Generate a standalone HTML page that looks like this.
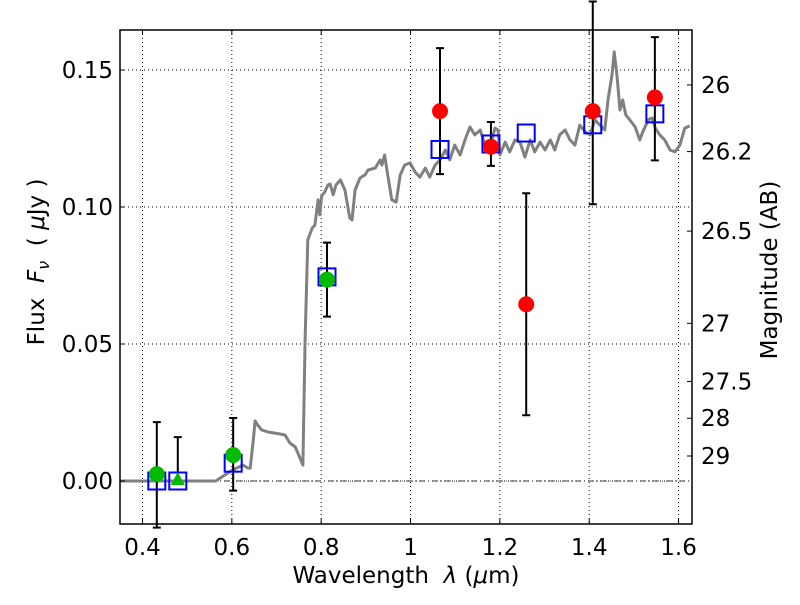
<!DOCTYPE html>
<html><head><meta charset="utf-8"><style>
body{margin:0;background:#fff}
svg text{font-family:"DejaVu Sans","Liberation Sans",sans-serif;font-size:23px;fill:#000}
</style></head><body>
<svg id="chart" width="800" height="600" xmlns="http://www.w3.org/2000/svg">
<g id="grid"></g>
<g id="spec"></g>
<g id="marks"></g>
<g id="axes"></g>
<text x="406" y="583" text-anchor="middle" xml:space="preserve">Wavelength  <tspan font-style="italic">λ</tspan> (<tspan font-style="italic">μ</tspan>m)</text>
<text transform="translate(44,262) rotate(-90)" text-anchor="middle" xml:space="preserve">Flux  <tspan font-style="italic">F</tspan><tspan font-style="italic" font-size="16" dy="5">ν</tspan><tspan dy="-5">  ( </tspan><tspan font-style="italic">μ</tspan>Jy )</text>
<text transform="translate(777,270) rotate(-90)" text-anchor="middle">Magnitude (AB)</text>
</svg>
<script>
const xTicks=[0.4,0.6,0.8,1.0,1.2,1.4,1.6];
const xTickLabels=["0.4","0.6","0.8","1","1.2","1.4","1.6"];
const yTicks=[0,0.05,0.10,0.15];
const yTickLabels=["0.00","0.05","0.10","0.15"];
const magTicks=[26,26.2,26.5,27,27.5,28,29];
const magLabels=["26","26.2","26.5","27","27.5","28","29"];
const specLam=[0.350,0.564,0.601,0.625,0.636,0.641,0.648,0.652,0.658,0.667,0.681,0.697,0.719,0.730,0.742,0.759,0.764,0.770,0.780,0.786,0.793,0.797,0.801,0.808,0.815,0.820,0.827,0.833,0.843,0.853,0.864,0.869,0.876,0.887,0.898,0.905,0.921,0.932,0.936,0.942,0.949,0.958,0.968,0.977,0.987,0.999,1.010,1.021,1.033,1.043,1.055,1.066,1.078,1.088,1.099,1.111,1.122,1.133,1.144,1.156,1.167,1.177,1.189,1.196,1.200,1.212,1.222,1.234,1.245,1.256,1.268,1.278,1.290,1.301,1.313,1.323,1.334,1.346,1.357,1.368,1.379,1.391,1.402,1.413,1.424,1.435,1.442,1.451,1.456,1.462,1.469,1.475,1.482,1.491,1.503,1.513,1.520,1.532,1.541,1.548,1.558,1.569,1.581,1.592,1.603,1.614,1.625];
const specFlux=[0,0,0.0040,0.0058,0.0047,0.0047,0.0150,0.0219,0.0204,0.0186,0.0179,0.0175,0.0168,0.0139,0.0124,0.0058,0.0515,0.0880,0.0923,0.0934,0.1026,0.0971,0.1040,0.1055,0.1080,0.1084,0.1044,0.1080,0.1099,0.1062,0.0960,0.0953,0.1062,0.1106,0.1117,0.1135,0.1142,0.1172,0.1153,0.1190,0.1117,0.1026,0.1018,0.1117,0.1153,0.1161,0.1128,0.1109,0.1142,0.1109,0.1153,0.1172,0.1208,0.1172,0.1226,0.1190,0.1245,0.1292,0.1263,0.1281,0.1226,0.1208,0.1288,0.1281,0.1190,0.1237,0.1201,0.1245,0.1237,0.1182,0.1245,0.1201,0.1237,0.1208,0.1245,0.1208,0.1263,0.1281,0.1245,0.1226,0.1299,0.1274,0.1263,0.1318,0.1299,0.1281,0.1391,0.1482,0.1566,0.1482,0.1354,0.1391,0.1336,0.1318,0.1292,0.1245,0.1274,0.1318,0.1325,0.1288,0.1263,0.1245,0.1208,0.1201,0.1226,0.1288,0.1296];
const redLam=[1.066,1.180,1.259,1.408,1.547];
const redFlux=[0.135,0.122,0.0645,0.135,0.140];
const redHi=[0.158,0.131,0.105,0.175,0.162];
const redLo=[0.112,0.115,0.024,0.101,0.117];
const greenLam=[0.432,0.603,0.813];
const greenFlux=[0.0025,0.0095,0.0735];
const greenHi=[0.0215,0.023,0.087];
const greenLo=[-0.017,-0.0035,0.060];
const triLam=[0.479];
const triFlux=[0.0];
const triHi=[0.016];
const triLo=[-0.001];
const boxLam=[0.432,0.479,0.603,0.813,1.066,1.180,1.259,1.408,1.547];
const boxFlux=[0.0,0.0,0.0065,0.0745,0.121,0.123,0.127,0.130,0.134];

const L=120,R=692,T=30,B=524;
const X=v=>142.5+(v-0.4)*446.7;
const Y=v=>481-v*2740;
const magToFlux=m=>Math.pow(10,-0.4*(m-23.9));
const NS="http://www.w3.org/2000/svg";
function mk(parent,tag,attrs){const e=document.createElementNS(NS,tag);for(const k in attrs)e.setAttribute(k,attrs[k]);document.getElementById(parent).appendChild(e);return e;}

xTicks.forEach((t,i)=>{
  const g=mk('grid','line',{x1:X(t),x2:X(t),y1:T,y2:B,stroke:'#000','stroke-width':1,'stroke-dasharray':'1,3'});
  
  
  const a=mk('axes','line',{x1:X(t),x2:X(t),y1:B,y2:B-5,stroke:'#000'});
  
  
  const b=mk('axes','line',{x1:X(t),x2:X(t),y1:T,y2:T+5,stroke:'#000'});
  
  
  const tx=mk('axes','text',{x:X(t),y:B+31,'text-anchor':'middle'});tx.textContent=xTickLabels[i];
  
  
});
yTicks.forEach((t,i)=>{
  const g=mk('grid','line',{x1:L,x2:R,y1:Y(t),y2:Y(t),stroke:'#000','stroke-width':1,'stroke-dasharray':'1,3'});
  
  
  const a=mk('axes','line',{x1:L,x2:L+5,y1:Y(t),y2:Y(t),stroke:'#000'});
  
  
  const tx=mk('axes','text',{x:L-7,y:Y(t)+8,'text-anchor':'end'});tx.textContent=yTickLabels[i];
  
  
});
magTicks.forEach((m,i)=>{
  const y=Y(magToFlux(m));
  const a=mk('axes','line',{x1:R,x2:R-5,y1:y,y2:y,stroke:'#000'});
  
  
  const tx=mk('axes','text',{x:R+9,y:y+8,'text-anchor':'start'});tx.textContent=magLabels[i];
  
  
});
const zl=mk('grid','line',{x1:L,x2:R,y1:Y(0),y2:Y(0),stroke:'#000','stroke-width':0.8,'stroke-dasharray':'6,3,1,3'});



let d='';specLam.forEach((l,i)=>{d+=(i?'L':'M')+X(l).toFixed(1)+','+Y(specFlux[i]).toFixed(1);});
const sp=mk('spec','path',{d:d,fill:'none',stroke:'#808080','stroke-width':3,'stroke-linejoin':'round'});



function errbar(lam,hi,lo){
  const x=X(lam),y1=Y(hi),y2=Y(lo);
  const e=mk('marks','path',{d:`M${x},${y1}L${x},${y2}M${x-4},${y1}L${x+4},${y1}M${x-4},${y2}L${x+4},${y2}`,stroke:'#000','stroke-width':2,fill:'none'});
  
  
}
redLam.forEach((l,i)=>errbar(l,redHi[i],redLo[i]));
greenLam.forEach((l,i)=>errbar(l,greenHi[i],greenLo[i]));
triLam.forEach((l,i)=>errbar(l,triHi[i],triLo[i]));
boxLam.forEach((l,i)=>{
  const r=mk('marks','rect',{x:X(l)-8.5,y:Y(boxFlux[i])-8.5,width:17,height:17,fill:'none',stroke:'#0000ff','stroke-width':2});
  
  
});
greenLam.forEach((l,i)=>{
  const c=mk('marks','circle',{cx:X(l),cy:Y(greenFlux[i]),r:8,fill:'#00bb00'});
  
  
});
triLam.forEach((l,i)=>{
  const x=X(l),y=Y(triFlux[i]);
  const p=mk('marks','polygon',{points:`${x},${y-9} ${x-7},${y+4} ${x+7},${y+4}`,fill:'#00bb00'});
  
  
});
redLam.forEach((l,i)=>{
  const c=mk('marks','circle',{cx:X(l),cy:Y(redFlux[i]),r:8,fill:'#ff0000'});
  
  
});
const fr=mk('axes','rect',{x:L,y:T,width:R-L,height:B-T,fill:'none',stroke:'#000','stroke-width':1.5});


</script>
</body></html>
